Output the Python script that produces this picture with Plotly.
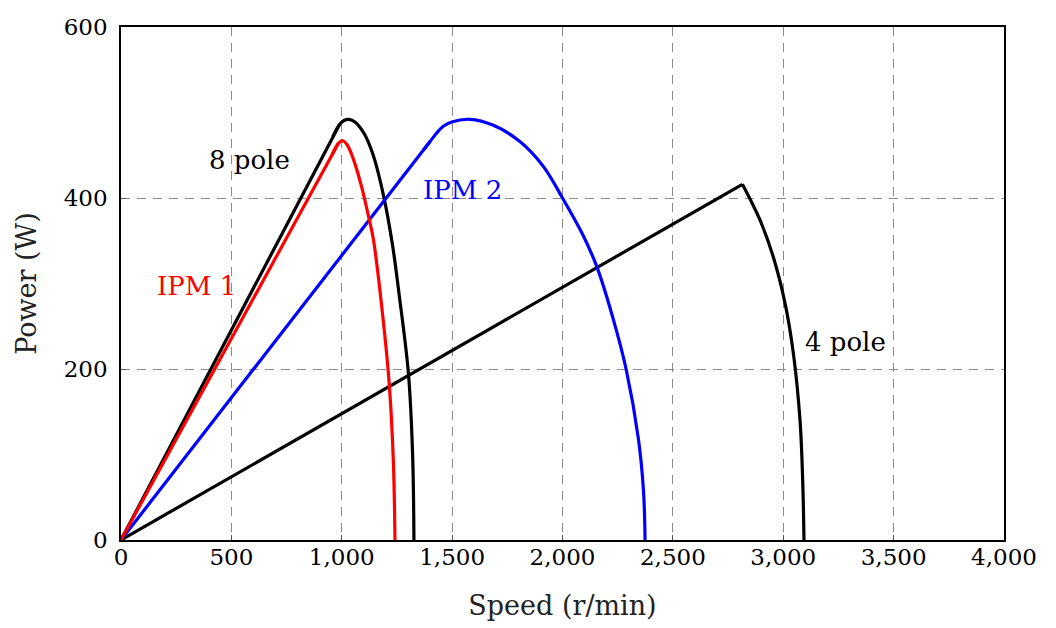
import plotly.graph_objects as go

# ---- data ----
# 8 pole motor (black)
pole8_rise_speed = [0, 990]
pole8_rise_power = [0, 486]
pole8_fall_speed = [960, 990, 1012, 1033, 1060, 1100, 1140, 1190, 1230, 1261, 1302, 1321, 1327]
pole8_fall_power = [472, 486, 491, 492, 489, 476, 452, 402, 345, 285, 195, 100, 0]

# IPM 1 (red)
ipm1_rise_speed = [0, 985]
ipm1_rise_power = [0, 464]
ipm1_fall_speed = [955, 985, 1004, 1025, 1052, 1090, 1120, 1143, 1176, 1215, 1234, 1241]
ipm1_fall_power = [450, 464, 467, 462, 446, 413, 380, 352, 285, 183, 90, 0]

# IPM 2 (blue)
ipm2_rise_speed = [0, 1400]
ipm2_rise_power = [0, 466]
ipm2_fall_speed = [1370, 1400, 1430, 1460, 1498, 1581, 1687, 1807, 1913, 2000, 2088, 2155, 2227, 2288, 2344, 2367, 2374]
ipm2_fall_power = [456, 466, 476, 484, 489, 492, 485, 466, 437, 400, 359, 320, 261, 200, 118, 57, 0]

# 4 pole motor (black)
pole4_rise_speed = [0, 2815]
pole4_rise_power = [0, 416]
pole4_fall_speed = [2815, 2895, 2955, 3008, 3046, 3076, 3088, 3094]
pole4_fall_power = [416, 374, 331, 277, 218, 140, 70, 0]

x_ticks = [0, 500, 1000, 1500, 2000, 2500, 3000, 3500, 4000]
y_ticks = [0, 200, 400, 600]

labels = ["8 pole", "IPM 1", "IPM 2", "4 pole"]
label_x = [584, 344, 1549, 3284]
label_y = [444, 297, 409, 232]
label_colors = ["black", "red", "blue", "black"]

FONT = "DejaVu Serif"
LW = 3.2

fig = go.Figure()

series = [
    (pole8_rise_speed, pole8_rise_power, pole8_fall_speed, pole8_fall_power, "black", "8 pole"),
    (pole4_rise_speed, pole4_rise_power, pole4_fall_speed, pole4_fall_power, "black", "4 pole"),
    (ipm2_rise_speed, ipm2_rise_power, ipm2_fall_speed, ipm2_fall_power, "blue", "IPM 2"),
    (ipm1_rise_speed, ipm1_rise_power, ipm1_fall_speed, ipm1_fall_power, "red", "IPM 1"),
]
for rx, ry, fx, fy, col, name in series:
    fig.add_trace(go.Scatter(x=rx, y=ry, mode="lines", name=name,
                             line=dict(color=col, width=LW), showlegend=False))
    fig.add_trace(go.Scatter(x=fx, y=fy, mode="lines", name=name,
                             line=dict(color=col, width=LW, shape="spline", smoothing=1.0),
                             showlegend=False))

for t, x, y, c in zip(labels, label_x, label_y, label_colors):
    fig.add_annotation(x=x, y=y, text=t, showarrow=False,
                       font=dict(family=FONT, size=26, color=c))

axis_common = dict(
    showline=True, linecolor="black", linewidth=1.5, mirror=True,
    showgrid=True, gridcolor="#8a8a8a", gridwidth=1, griddash="9px,7px",
    ticks="inside", ticklen=5, tickcolor="#555", zeroline=False,
    tickfont=dict(family=FONT, size=23, color="black"),
    automargin=False,
)

fig.update_xaxes(range=[0, 4000], tickvals=x_ticks, tickformat=",d",
                 title=dict(text="Speed (r/min)", font=dict(family=FONT, size=27, color="#222"), standoff=27),
                 ticklabelstandoff=-4, **axis_common)
fig.update_yaxes(range=[0, 600], tickvals=y_ticks,
                 title=dict(text="Power (W)", font=dict(family=FONT, size=27, color="#222"), standoff=19),
                 ticklabelstandoff=7, **axis_common)

fig.update_layout(
    width=1056, height=628,
    margin=dict(l=113, r=60, t=19, b=96),
    plot_bgcolor="white", paper_bgcolor="white",
    font=dict(family=FONT),
)

fig.write_html("out.html")
